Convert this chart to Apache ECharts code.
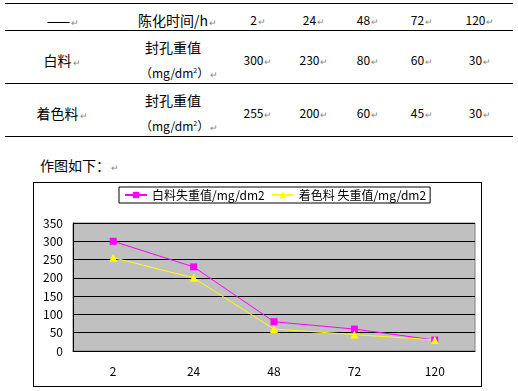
<!DOCTYPE html>
<html><head><meta charset="utf-8">
<script src="https://cdn.jsdelivr.net/npm/echarts@6/dist/echarts.min.js"></script>
<style>
html,body{margin:0;padding:0;background:#fff;width:518px;height:391px;overflow:hidden;position:relative;font-family:"Noto Sans CJK SC",sans-serif;color:#000}
.t{position:absolute;white-space:nowrap;transform:translate(-50%,-50%);font-size:14px;line-height:1}
.l{position:absolute;white-space:nowrap;transform:translate(0,-50%);font-size:14px;line-height:1}
.n{font-size:12px}
.hr{position:absolute;left:5px;width:508px;height:1px;background:#000}
.r{color:#888;font-size:9px;margin-left:1px}
#box{position:absolute;left:33px;top:182px;width:449px;height:205px;border:1px solid #000;box-sizing:border-box}
#chart{position:absolute;left:0;top:0;width:447px;height:203px}
</style></head>
<body>
<div id="table"></div>
<div class="l" style="left:40px;top:165px">作图如下：<span class="r">↵</span></div>
<div id="box"><div id="chart"></div></div>
<script>
// data
const categories = ['2', '24', '48', '72', '120'];
const whiteValues = [300, 230, 80, 60, 30];
const coloredValues = [255, 200, 60, 45, 30];
const seriesNames = ['白料失重值/mg/dm2', '着色料 失重值/mg/dm2'];
const rowLabels = ['白料', '着色料'];
const yTicks = { min: 0, max: 350, interval: 50 };

// table (document part)
const tbl = document.getElementById('table');
const R = '<span class="r">↵</span>';
let h = '';
[3, 30, 83, 136].forEach(y => h += `<div class="hr" style="top:${y}px"></div>`);
h += `<div class="t" style="left:63px;top:20px">——${R}</div>`;
h += `<div class="l" style="left:138px;top:20px">陈化时间/h${R}</div>`;
const colX = [258, 314, 368, 422, 480];
categories.forEach((c, i) => h += `<div class="t n" style="left:${colX[i]}px;top:20px">${c}${R}</div>`);
const rowY = [60, 113];
const vals = [whiteValues, coloredValues];
rowLabels.forEach((lab, r) => {
  const y = rowY[r];
  h += `<div class="t" style="left:62px;top:${y}px">${lab}${R}</div>`;
  h += `<div class="l" style="left:145px;top:${y - 13}px">封孔重值</div>`;
  h += `<div class="l n" style="left:140px;top:${y + 13}px">（mg/dm<sup style="font-size:7px">2</sup>）${R}</div>`;
  vals[r].forEach((v, i) => h += `<div class="t n" style="left:${colX[i]}px;top:${y}px">${v}${R}</div>`);
});
tbl.innerHTML = h;

// chart
const chart = echarts.init(document.getElementById('chart'), null, { renderer: 'canvas' });
const font = { fontFamily: 'Noto Sans CJK SC', fontSize: 12, color: '#000' };
chart.setOption({
  animation: false,
  backgroundColor: '#fff',
  legend: {
    left: 85, top: 4,
    padding: [2, 4, 2, 5],
    borderColor: '#000', borderWidth: 1,
    itemWidth: 22, itemHeight: 8, itemGap: 6,
    textStyle: { fontFamily: 'Noto Sans CJK SC', fontSize: 12, color: '#000' },
    data: seriesNames
  },
  grid: {
    left: 39, top: 40, width: 402, height: 128,
    show: true, backgroundColor: '#c0c0c0', borderColor: '#808080', borderWidth: 1
  },
  xAxis: {
    type: 'category', data: categories, boundaryGap: true,
    axisLine: { lineStyle: { color: '#000', width: 1 } },
    axisTick: { inside: true, length: 4, lineStyle: { color: '#000' } },
    axisLabel: { ...font, margin: 14 }
  },
  yAxis: {
    type: 'value', min: yTicks.min, max: yTicks.max, interval: yTicks.interval,
    axisLine: { show: true, lineStyle: { color: '#000', width: 1 } },
    axisTick: { show: false },
    splitLine: { lineStyle: { color: '#000', width: 1 } },
    axisLabel: { ...font, margin: 10 }
  },
  series: [
    { name: seriesNames[0], type: 'line', data: whiteValues, color: '#ff00ff',
      symbol: 'rect', symbolSize: 7, lineStyle: { width: 1, color: '#ff00ff' },
      itemStyle: { color: '#ff00ff' } },
    { name: seriesNames[1], type: 'line', data: coloredValues, color: '#ffff00',
      symbol: 'triangle', symbolSize: 8, lineStyle: { width: 1, color: '#ffff00' },
      itemStyle: { color: '#ffff00' } }
  ]
});
</script>
</body></html>
